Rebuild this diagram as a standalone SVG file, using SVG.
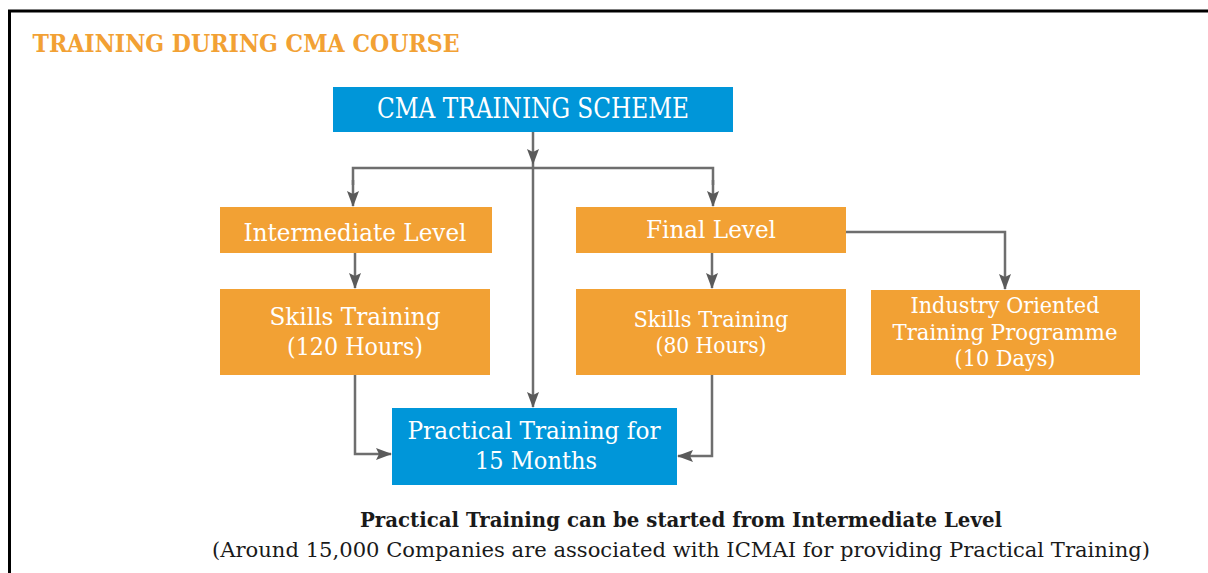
<svg xmlns="http://www.w3.org/2000/svg" width="1208" height="573" viewBox="0 0 1208 573">
  <style>
    .t { font-family: "DejaVu Serif", "Liberation Serif", serif; text-anchor: middle; }
    .w { fill: #ffffff; }
    .blue { fill: #0096d9; }
    .orange { fill: #f2a134; }
    .edge { fill: none; stroke: #6e6e6e; stroke-width: 2.5; }
  </style>
  <defs>
    <marker id="arrow" viewBox="0 0 16 12" refX="15" refY="6" markerWidth="16" markerHeight="12" markerUnits="userSpaceOnUse" orient="auto">
      <path d="M0,0 L16,6 L0,12 L3,6 Z" fill="#5a5a5a"/>
    </marker>
  </defs>

  <rect x="0" y="0" width="1208" height="573" fill="#ffffff"/>
  <!-- frame -->
  <path d="M9.5,573 V11 H1208" fill="none" stroke="#000000" stroke-width="3"/>

  <text class="t" x="246" y="52" font-size="25" font-weight="bold" fill="#f2a134" textLength="427" lengthAdjust="spacingAndGlyphs">TRAINING DURING CMA COURSE</text>

  <!-- connectors -->
  <g id="connectors">
    <path class="edge" d="M533,132 V164" marker-end="url(#arrow)"/>
    <path class="edge" d="M353,185 V168 H713 V185" />
    <path class="edge" d="M353,180 V206" marker-end="url(#arrow)"/>
    <path class="edge" d="M713,180 V206" marker-end="url(#arrow)"/>
    <path class="edge" d="M533,164 V407" marker-end="url(#arrow)"/>
    <path class="edge" d="M355,253 V288" marker-end="url(#arrow)"/>
    <path class="edge" d="M712,253 V288" marker-end="url(#arrow)"/>
    <path class="edge" d="M846,232 H1005 V289" marker-end="url(#arrow)"/>
    <path class="edge" d="M355,375 V454 H391" marker-end="url(#arrow)"/>
    <path class="edge" d="M712,375 V456 H678" marker-end="url(#arrow)"/>
  </g>

  <g id="cma-scheme">
    <rect class="blue" x="333" y="87" width="400" height="45"/>
    <text class="t w" x="533" y="118" font-size="27" textLength="312" lengthAdjust="spacingAndGlyphs">CMA TRAINING SCHEME</text>
  </g>

  <g id="intermediate-level">
    <rect class="orange" x="220" y="207" width="272" height="46"/>
    <text class="t w" x="355" y="241" font-size="25" textLength="223" lengthAdjust="spacingAndGlyphs">Intermediate Level</text>
  </g>

  <g id="final-level">
    <rect class="orange" x="576" y="207" width="270" height="46"/>
    <text class="t w" x="711" y="238" font-size="25" textLength="130" lengthAdjust="spacingAndGlyphs">Final Level</text>
  </g>

  <g id="skills-intermediate">
    <rect class="orange" x="220" y="289" width="270" height="86"/>
    <text class="t w" x="355" y="325" font-size="25" textLength="171" lengthAdjust="spacingAndGlyphs">Skills Training</text>
    <text class="t w" x="355" y="355" font-size="25" textLength="136" lengthAdjust="spacingAndGlyphs">(120 Hours)</text>
  </g>

  <g id="skills-final">
    <rect class="orange" x="576" y="289" width="270" height="86"/>
    <text class="t w" x="711" y="327" font-size="23" textLength="155" lengthAdjust="spacingAndGlyphs">Skills Training</text>
    <text class="t w" x="711" y="353" font-size="23" textLength="111" lengthAdjust="spacingAndGlyphs">(80 Hours)</text>
  </g>

  <g id="industry-oriented">
    <rect class="orange" x="871" y="290" width="269" height="85"/>
    <text class="t w" x="1005" y="313" font-size="23" textLength="189" lengthAdjust="spacingAndGlyphs">Industry Oriented</text>
    <text class="t w" x="1005" y="340" font-size="23" textLength="225" lengthAdjust="spacingAndGlyphs">Training Programme</text>
    <text class="t w" x="1005" y="366" font-size="23" textLength="101" lengthAdjust="spacingAndGlyphs">(10 Days)</text>
  </g>

  <g id="practical-training">
    <rect class="blue" x="392" y="408" width="285" height="77"/>
    <text class="t w" x="534" y="439" font-size="25" textLength="253" lengthAdjust="spacingAndGlyphs">Practical Training for</text>
    <text class="t w" x="536" y="469" font-size="25" textLength="122" lengthAdjust="spacingAndGlyphs">15 Months</text>
  </g>

  <g id="notes">
    <text class="t" x="681" y="527" font-size="20" font-weight="bold" fill="#1a1a1a" textLength="642" lengthAdjust="spacingAndGlyphs">Practical Training can be started from Intermediate Level</text>
    <text class="t" x="681" y="557" font-size="20" fill="#1a1a1a" textLength="938" lengthAdjust="spacingAndGlyphs">(Around 15,000 Companies are associated with ICMAI for providing Practical Training)</text>
  </g>
</svg>
